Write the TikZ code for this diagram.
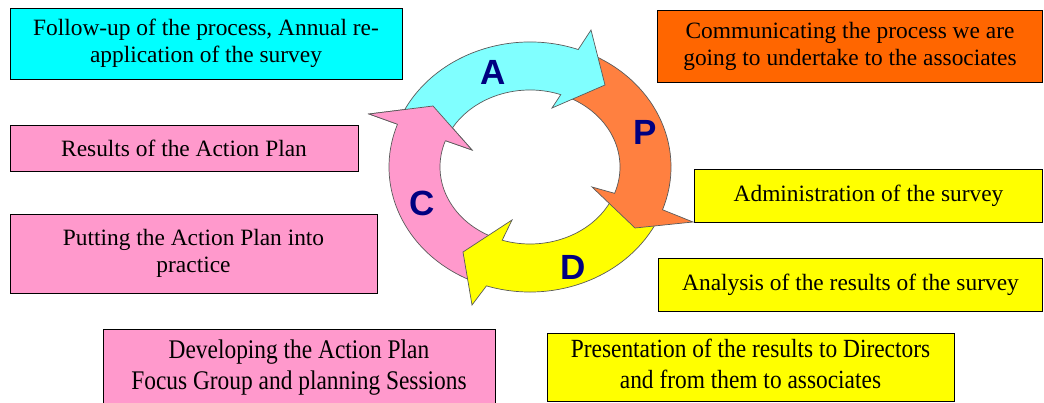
\documentclass[tikz,border=0pt]{standalone}
\usepackage{graphicx}
\usepackage{fontspec}
\setmainfont{Liberation Serif}
\newfontfamily\lettersf{Liberation Sans}
\usetikzlibrary{calc}
\definecolor{cyanbox}{HTML}{00FFFF}
\definecolor{cyanarr}{HTML}{80FFFF}
\definecolor{orgbox}{HTML}{FF6600}
\definecolor{orgarr}{HTML}{FF8040}
\definecolor{pinkc}{HTML}{FF99CC}
\definecolor{yel}{HTML}{FFFF00}
\definecolor{navyc}{HTML}{000080}
\definecolor{edgec}{HTML}{5A5A5A}
% #1 fill, #2 tail angle, #3 head-base angle, #4 outer barb, #5 tip, #6 inner barb
\newcommand\ringarrow[6]{%
  \draw[arr, fill=#1] ($(c)+(#2:141pt and 125pt)$)
    arc[start angle=#2, end angle=#3, x radius=141pt, y radius=125pt]
    -- #4 -- #5 -- #6 -- ($(c)+(#3:90pt and 77pt)$)
    arc[start angle=#3, end angle=#2, x radius=90pt, y radius=77pt] -- cycle;}
\begin{document}
\begin{tikzpicture}[x=1pt,y=1pt,
  box/.style={draw=black, line width=0.8pt, inner sep=0pt, align=center,
    font=\fontsize{23.4}{27}\selectfont},
  arr/.style={draw=edgec, line width=0.7pt, line join=miter},
  letter/.style={font=\lettersf\bfseries\fontsize{35}{35}\selectfont, text=navyc}]
\useasboundingbox (0,0) rectangle (1044,403);
\coordinate (c) at (530,236);

% boxes
\node[box, fill=cyanbox, minimum width=392, minimum height=71] (follow) at (206,359.5)
  {Follow-up of the process, Annual re-\\application of the survey};
\node[box, fill=orgbox, minimum width=385, minimum height=72] (comm) at (850,357)
  {Communicating the process we are\\going to undertake to the associates};
\node[box, fill=pinkc, minimum width=348, minimum height=46] (results) at (184,255)
  {Results of the Action Plan};
\node[box, fill=pinkc, minimum width=367, minimum height=79] (putting) at (193.5,149.5)
  {Putting the Action Plan into\\practice};
\node[box, fill=yel, minimum width=348, minimum height=53] (admin) at (868.5,207.5)
  {Administration of the survey};
\node[box, fill=yel, minimum width=384, minimum height=53] (analysis) at (850.5,118.5)
  {Analysis of the results of the survey};
\node[box, fill=pinkc, minimum width=392, minimum height=78] (develop) at (299,35)
  {\scalebox{1}[1.15]{\begin{tabular}{@{}c@{}}Developing the Action Plan\\Focus Group and planning Sessions\end{tabular}}};
\node[box, fill=yel, minimum width=407, minimum height=68] (present) at (750.5,36)
  {\scalebox{1}[1.12]{\begin{tabular}{@{}c@{}}Presentation of the results to Directors\\and from them to associates\end{tabular}}};

% cycle arrows
\ringarrow{pinkc}{245}{160}{(369,289)}{(433,297)}{(472,253)}
\ringarrow{yel}{333}{252}{(472,98)}{(463,151)}{(512,183)}
\ringarrow{orgarr}{63}{-20}{(693,181)}{(635,175)}{(592,216)}
\ringarrow{cyanarr}{157}{70}{(591,373)}{(605,318)}{(552,295)}
% pink head over the cyan tail
\fill[pinkc] ($(c)+(160:141pt and 125pt)$) -- (369,289) -- (433,297) -- (472,253)
  -- ($(c)+(160:90pt and 77pt)$) -- cycle;
\draw[arr] ($(c)+(160:141pt and 125pt)$) -- (369,289) -- (433,297) -- (472,253)
  -- ($(c)+(160:90pt and 77pt)$);

% letters
\node[letter] (lA) at (493,331) {A};
\node[letter] (lP) at (645,271) {P};
\node[letter] (lC) at (422,200) {C};
\node[letter] (lD) at (573,136) {D};
\end{tikzpicture}
\end{document}
